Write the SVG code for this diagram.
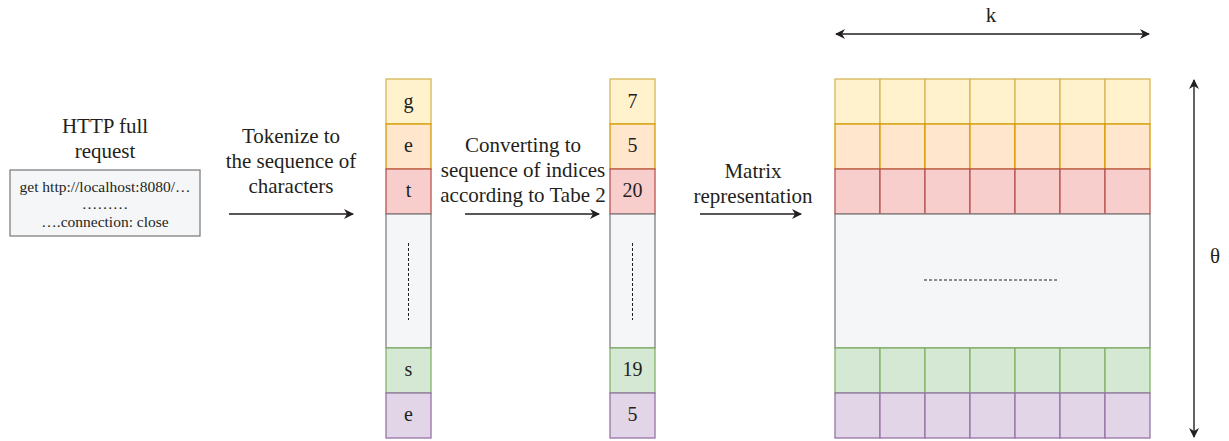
<svg xmlns="http://www.w3.org/2000/svg" width="1229" height="441" viewBox="0 0 1229 441">
<style>
text{font-family:"Liberation Serif",serif;fill:#231f20;text-anchor:middle;dominant-baseline:central}
.lab{font-size:21px}
.cell{font-size:20px}
.small{font-size:15.5px}
.y{fill:#fff2cc;stroke:#d6b656}
.o{fill:#ffe6cc;stroke:#d79b00}
.r{fill:#f8cecc;stroke:#b85450}
.g{fill:#f5f6f8;stroke:#808080}
.gr{fill:#d5e8d4;stroke:#82b366}
.p{fill:#e1d5e7;stroke:#9673a6}
rect{stroke-width:1.3}
.dash{stroke:#231f20;stroke-width:1;stroke-dasharray:3,2;fill:none}
.conn{stroke:#231f20;stroke-width:1.4;fill:none}
</style>
<defs>
<marker id="ah" viewBox="0 0 10 10" refX="9" refY="5" markerWidth="10" markerHeight="10" markerUnits="userSpaceOnUse" orient="auto-start-reverse">
<path d="M0,0 L10,5 L0,10 L3,5 Z" fill="#231f20"/>
</marker>
</defs>
<rect width="1229" height="441" fill="#ffffff" stroke="none"/>

<g id="http-request">
<text class="lab" x="105" y="126">HTTP full</text>
<text class="lab" x="105" y="151">request</text>
<rect x="10" y="170" width="190" height="66" fill="#f5f6f8" stroke="#808080"/>
<text class="small" x="105" y="186">get http://localhost:8080/…</text>
<text class="small" x="105" y="203">………</text>
<text class="small" x="105" y="221">….connection: close</text>
</g>

<g id="char-sequence">
<rect class="y" x="386" y="79" width="45" height="45"/>
<rect class="o" x="386" y="124" width="45" height="45"/>
<rect class="r" x="386" y="169" width="45" height="45"/>
<rect class="g" x="386" y="214" width="45" height="134"/>
<rect class="gr" x="386" y="348" width="45" height="45"/>
<rect class="p" x="386" y="393" width="45" height="45"/>
<text class="cell" x="408.5" y="101">g</text>
<text class="cell" x="408.5" y="145">e</text>
<text class="cell" x="408.5" y="190">t</text>
<line class="dash" x1="408.5" y1="243" x2="408.5" y2="320"/>
<text class="cell" x="408.5" y="369">s</text>
<text class="cell" x="408.5" y="414">e</text>
</g>

<g id="index-sequence">
<rect class="y" x="610" y="79" width="45" height="45"/>
<rect class="o" x="610" y="124" width="45" height="45"/>
<rect class="r" x="610" y="169" width="45" height="45"/>
<rect class="g" x="610" y="214" width="45" height="134"/>
<rect class="gr" x="610" y="348" width="45" height="45"/>
<rect class="p" x="610" y="393" width="45" height="45"/>
<text class="cell" x="632.5" y="101">7</text>
<text class="cell" x="632.5" y="145">5</text>
<text class="cell" x="632.5" y="190">20</text>
<line class="dash" x1="632.5" y1="243" x2="632.5" y2="320"/>
<text class="cell" x="632.5" y="369">19</text>
<text class="cell" x="632.5" y="414">5</text>
</g>

<g id="matrix">
<g>
<rect class="y" x="835" y="79" width="45" height="45"/><rect class="y" x="880" y="79" width="45" height="45"/><rect class="y" x="925" y="79" width="45" height="45"/><rect class="y" x="970" y="79" width="45" height="45"/><rect class="y" x="1015" y="79" width="45" height="45"/><rect class="y" x="1060" y="79" width="45" height="45"/><rect class="y" x="1105" y="79" width="45" height="45"/>
</g>
<g>
<rect class="o" x="835" y="124" width="45" height="45"/><rect class="o" x="880" y="124" width="45" height="45"/><rect class="o" x="925" y="124" width="45" height="45"/><rect class="o" x="970" y="124" width="45" height="45"/><rect class="o" x="1015" y="124" width="45" height="45"/><rect class="o" x="1060" y="124" width="45" height="45"/><rect class="o" x="1105" y="124" width="45" height="45"/>
</g>
<g>
<rect class="r" x="835" y="169" width="45" height="45"/><rect class="r" x="880" y="169" width="45" height="45"/><rect class="r" x="925" y="169" width="45" height="45"/><rect class="r" x="970" y="169" width="45" height="45"/><rect class="r" x="1015" y="169" width="45" height="45"/><rect class="r" x="1060" y="169" width="45" height="45"/><rect class="r" x="1105" y="169" width="45" height="45"/>
</g>
<rect class="g" x="835" y="214" width="315" height="134"/>
<line class="dash" x1="924" y1="280" x2="1057" y2="280"/>
<g>
<rect class="gr" x="835" y="348" width="45" height="45"/><rect class="gr" x="880" y="348" width="45" height="45"/><rect class="gr" x="925" y="348" width="45" height="45"/><rect class="gr" x="970" y="348" width="45" height="45"/><rect class="gr" x="1015" y="348" width="45" height="45"/><rect class="gr" x="1060" y="348" width="45" height="45"/><rect class="gr" x="1105" y="348" width="45" height="45"/>
</g>
<g>
<rect class="p" x="835" y="393" width="45" height="45"/><rect class="p" x="880" y="393" width="45" height="45"/><rect class="p" x="925" y="393" width="45" height="45"/><rect class="p" x="970" y="393" width="45" height="45"/><rect class="p" x="1015" y="393" width="45" height="45"/><rect class="p" x="1060" y="393" width="45" height="45"/><rect class="p" x="1105" y="393" width="45" height="45"/>
</g>
<text class="lab" x="991" y="15">k</text>
<text class="lab" x="1215" y="256">θ</text>
</g>

<g id="step-labels">
<text class="lab" x="291" y="136">Tokenize to</text>
<text class="lab" x="291" y="161">the sequence of</text>
<text class="lab" x="291" y="186">characters</text>
<text class="lab" x="523" y="145">Converting to</text>
<text class="lab" x="523" y="170">sequence of indices</text>
<text class="lab" x="523" y="195">according to Tabe 2</text>
<text class="lab" x="753" y="171">Matrix</text>
<text class="lab" x="753" y="196">representation</text>
</g>

<g id="connectors">
<line class="conn" x1="229" y1="214" x2="353" y2="214" marker-end="url(#ah)"/>
<line class="conn" x1="465" y1="214" x2="599" y2="214" marker-end="url(#ah)"/>
<line class="conn" x1="700" y1="214" x2="801" y2="214" marker-end="url(#ah)"/>
<line class="conn" x1="836" y1="34" x2="1149" y2="34" marker-start="url(#ah)" marker-end="url(#ah)"/>
<line class="conn" x1="1194" y1="80" x2="1194" y2="437" marker-start="url(#ah)" marker-end="url(#ah)"/>
</g>
</svg>
